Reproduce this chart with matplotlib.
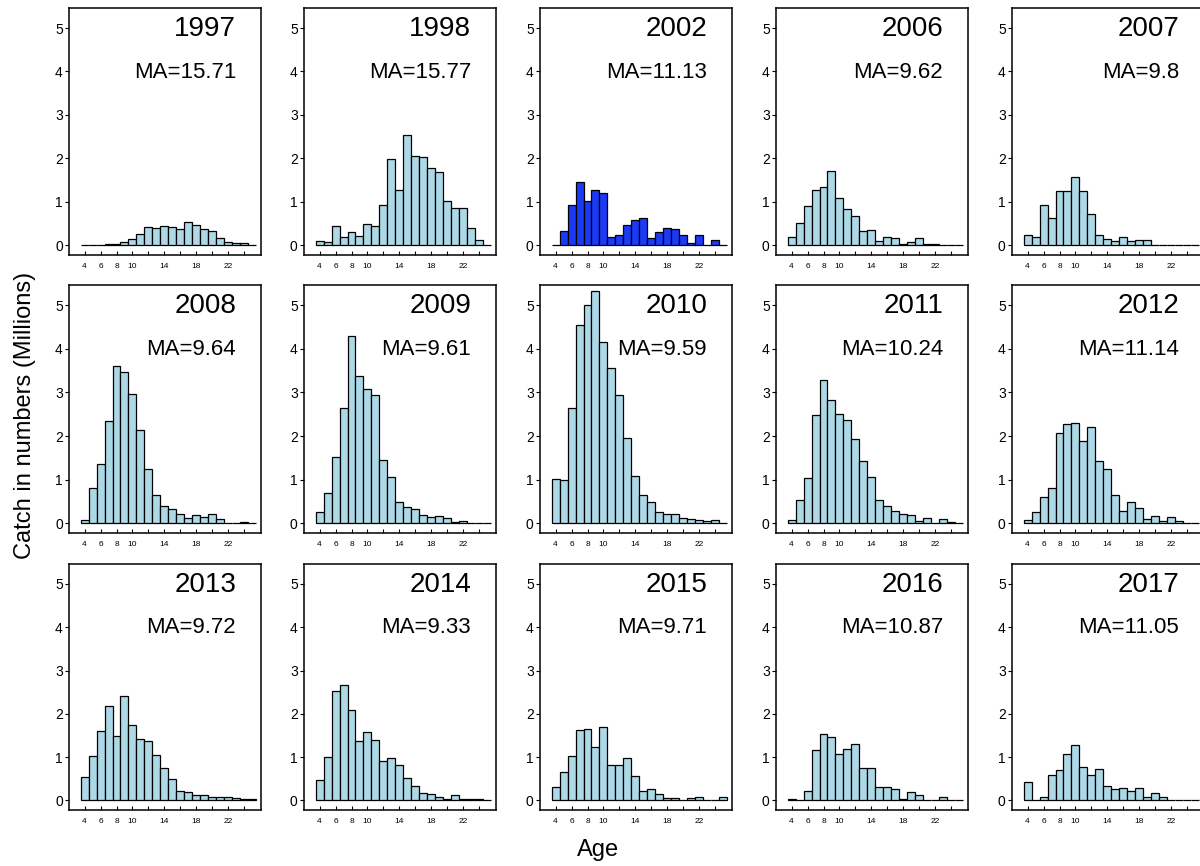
import matplotlib
matplotlib.use('Agg')
import matplotlib.pyplot as plt

plt.rcParams['font.family'] = ['Liberation Sans', 'DejaVu Sans']

# ages 4..25
ages = list(range(4, 26))

c1997 = [0, 0, 0.01, 0.03, 0.03, 0.08, 0.15, 0.27, 0.43, 0.40, 0.45, 0.43, 0.37, 0.53, 0.48, 0.37, 0.33, 0.18, 0.08, 0.05, 0.05, 0.02]
c1998 = [0.10, 0.07, 0.45, 0.20, 0.30, 0.22, 0.50, 0.45, 0.92, 1.98, 1.28, 2.53, 2.05, 2.03, 1.78, 1.70, 1.02, 0.85, 0.85, 0.40, 0.12, 0]
c2002 = [0.02, 0.33, 0.92, 1.45, 1.03, 1.28, 1.20, 0.20, 0.25, 0.48, 0.58, 0.62, 0.17, 0.30, 0.40, 0.37, 0.23, 0.05, 0.23, 0, 0.12, 0]
c2006 = [0.20, 0.52, 0.90, 1.28, 1.35, 1.72, 1.10, 0.83, 0.68, 0.33, 0.35, 0.10, 0.20, 0.17, 0.04, 0.07, 0.17, 0.04, 0.04, 0.02, 0, 0]
c2007 = [0.23, 0.20, 0.92, 0.62, 1.25, 1.25, 1.57, 1.25, 0.73, 0.25, 0.15, 0.10, 0.20, 0.10, 0.13, 0.13, 0.02, 0.02, 0, 0, 0, 0]
c2008 = [0.08, 0.80, 1.37, 2.35, 3.60, 3.46, 2.96, 2.13, 1.25, 0.65, 0.40, 0.33, 0.22, 0.13, 0.20, 0.15, 0.22, 0.10, 0.02, 0.02, 0.04, 0]
c2009 = [0.25, 0.70, 1.53, 2.65, 4.30, 3.38, 3.08, 2.95, 1.45, 1.07, 0.50, 0.38, 0.32, 0.20, 0.15, 0.17, 0.12, 0.04, 0.05, 0, 0, 0]
c2010 = [1.02, 1.00, 2.65, 4.55, 5.00, 5.33, 4.15, 3.55, 2.95, 1.95, 1.08, 0.65, 0.48, 0.25, 0.22, 0.22, 0.12, 0.10, 0.08, 0.05, 0.08, 0]
c2011 = [0.08, 0.53, 1.03, 2.48, 3.28, 2.83, 2.50, 2.37, 1.93, 1.42, 1.07, 0.53, 0.40, 0.28, 0.22, 0.20, 0.05, 0.13, 0, 0.10, 0.03, 0]
c2012 = [0.08, 0.25, 0.60, 0.82, 2.07, 2.27, 2.30, 1.88, 2.20, 1.43, 1.25, 0.65, 0.28, 0.50, 0.35, 0.10, 0.17, 0.05, 0.15, 0.05, 0, 0]
c2013 = [0.55, 1.02, 1.60, 2.18, 1.48, 2.42, 1.75, 1.42, 1.37, 1.05, 0.75, 0.50, 0.23, 0.20, 0.13, 0.13, 0.07, 0.08, 0.08, 0.06, 0.04, 0.04]
c2014 = [0.47, 1.00, 2.52, 2.67, 2.10, 1.38, 1.57, 1.40, 0.90, 0.98, 0.82, 0.53, 0.33, 0.18, 0.15, 0.08, 0.03, 0.12, 0.03, 0.03, 0.03, 0]
c2015 = [0.32, 0.65, 1.02, 1.63, 1.65, 1.23, 1.70, 0.83, 0.83, 0.97, 0.57, 0.23, 0.27, 0.15, 0.05, 0.05, 0, 0.05, 0.07, 0, 0, 0.08]
c2016 = [0.03, 0, 0.23, 1.17, 1.53, 1.47, 1.08, 1.18, 1.30, 0.75, 0.75, 0.30, 0.30, 0.27, 0.03, 0.20, 0.13, 0, 0, 0.07, 0, 0]
c2017 = [0.43, 0, 0.08, 0.58, 0.70, 1.07, 1.27, 0.77, 0.58, 0.72, 0.33, 0.27, 0.28, 0.22, 0.28, 0.08, 0.17, 0.08, 0, 0, 0, 0]

years = [1997, 1998, 2002, 2006, 2007, 2008, 2009, 2010, 2011, 2012, 2013, 2014, 2015, 2016, 2017]
catches = [c1997, c1998, c2002, c2006, c2007, c2008, c2009, c2010, c2011, c2012, c2013, c2014, c2015, c2016, c2017]
ma_labels = ['15.71', '15.77', '11.13', '9.62', '9.8', '9.64', '9.61', '9.59', '10.24', '11.14',
             '9.72', '9.33', '9.71', '10.87', '11.05']

xticks = list(range(4, 25, 2))
shown = [4, 6, 8, 10, 14, 18, 22]

W, H = 1200, 866
fig = plt.figure(figsize=(12, 8.66), dpi=100)

col_left = [69, 304, 540, 776, 1012]
rows = [(8, 255), (285, 533), (564, 810)]
pw = 192

for i in range(len(years)):
    r, c = divmod(i, 5)
    top, bot = rows[r]
    ax = fig.add_axes([col_left[c] / W, 1 - bot / H, pw / W, (bot - top) / H])
    col = '#1a3af5' if years[i] == 2002 else '#add8e6'
    ax.bar(ages, catches[i], width=1, color=col, edgecolor='black', linewidth=0.9)
    ax.set_xlim(2.05, 26.1)
    ax.set_ylim(-0.22, 5.46)
    ax.set_xticks(xticks)
    ax.set_xticklabels([str(t) if t in shown else '' for t in xticks])
    ax.set_yticks(range(6))
    ax.tick_params(axis='y', direction='out', length=3, width=0.8, labelsize=10, pad=1.5)
    ax.tick_params(axis='x', direction='in', length=3, width=0.8, labelsize=6, pad=6)
    for s in ax.spines.values():
        s.set_linewidth(1.1)
    ax.text(0.87, 0.915, str(years[i]), transform=ax.transAxes, ha='right', va='center', fontsize=20)
    ax.text(0.87, 0.74, 'MA=' + ma_labels[i], transform=ax.transAxes, ha='right', va='center', fontsize=16)

fig.text(0.021, 0.52, 'Catch in numbers (Millions)', rotation=90, ha='center', va='center', fontsize=17)
fig.text(0.498, 0.018, 'Age', ha='center', va='center', fontsize=17)

fig.savefig('out.png', dpi=100)
